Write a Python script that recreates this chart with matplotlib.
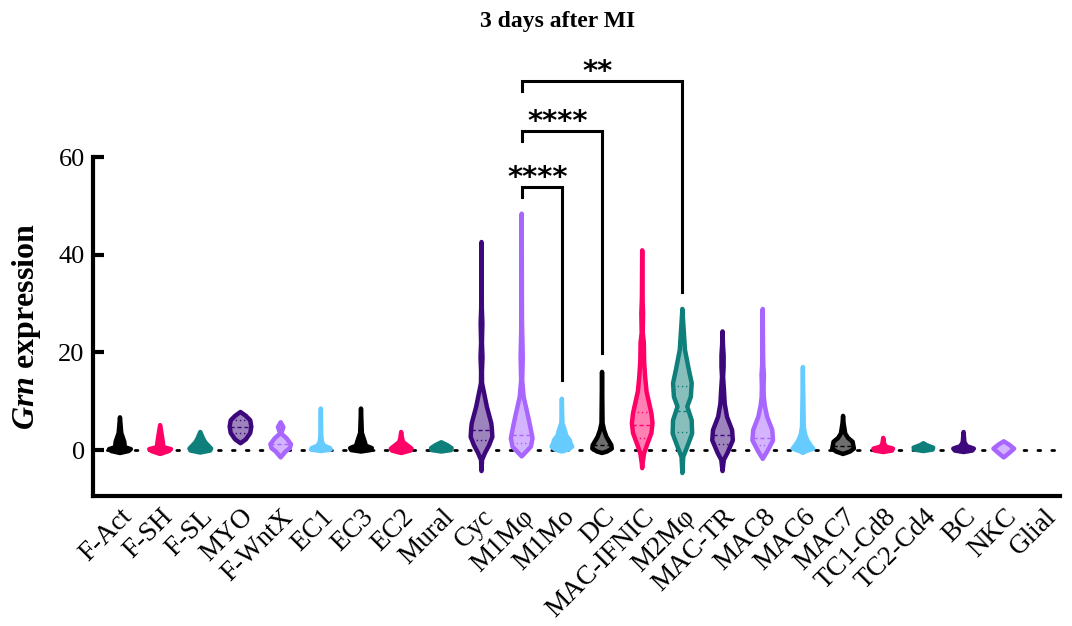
import numpy as np
import matplotlib
matplotlib.use('Agg')
import matplotlib.pyplot as plt
import matplotlib.transforms as mtransforms

plt.rcParams['font.family'] = 'Liberation Serif'
plt.rcParams['mathtext.fontset'] = 'custom'
plt.rcParams['mathtext.rm'] = 'Liberation Serif'
plt.rcParams['mathtext.bfit'] = 'Liberation Serif:italic:bold'

# cell types along the x axis
cells = ['F-Act', 'F-SH', 'F-SL', 'MYO', 'F-WntX', 'EC1', 'EC3', 'EC2', 'Mural',
         'Cyc', 'M1Mφ', 'M1Mo', 'DC', 'MAC-IFNIC', 'M2Mφ', 'MAC-TR', 'MAC8', 'MAC6',
         'MAC7', 'TC1-Cd8', 'TC2-Cd4', 'BC', 'NKC', 'Glial']

# colour cycle (edge, fill)
palette = [('#000000', '#6E6E6E'), ('#FF0066', '#FF80B3'), ('#0E7F7A', '#88BFBC'),
           ('#3D087B', '#9E84BD'), ('#A866FF', '#D4B3FF'), ('#66CCFF', '#B3E6FF')]

# flat violins look solid in the reference
solid = [1, 1, 1, 0, 0, 1, 1, 1, 1, 0, 0, 1, 0, 0, 0, 0, 0, 1, 0, 1, 1, 1, 0, 0]

# violin outlines: expression levels and relative half widths
profile_y = [
    [-0.6, -0.2, 0.2, 0.6, 1.7, 3.5, 6.7],
    [-0.8, -0.2, 0.2, 0.6, 1.6, 3.5, 5.1],
    [-0.5, -0.1, 0.3, 1.0, 1.6, 2.4, 3.7],
    [1.4, 2.2, 3.5, 4.8, 6.1, 7.0, 7.8],
    [-1.5, -0.3, 0.4, 1.2, 2.4, 3.4, 4.7, 5.7],
    [-0.2, 0.1, 0.4, 0.9, 1.7, 3.0, 8.5],
    [-0.3, 0.0, 0.4, 0.9, 1.7, 3.5, 8.5],
    [-0.6, -0.1, 0.3, 1.0, 1.6, 2.4, 3.7],
    [-0.3, 0.0, 0.4, 1.0, 1.6],
    [-4.3, -2.0, -0.6, 1.0, 2.7, 4.5, 5.5, 8.8, 13.7, 16, 19, 22, 26, 29, 42.6],
    [-1.3, -0.6, 0.7, 2.4, 4.7, 6.8, 10.9, 14.3, 19, 26, 48.4],
    [-0.3, 0.1, 0.7, 1.4, 2.0, 3.0, 4.1, 5.5, 10.5],
    [-0.6, -0.3, 0.3, 1.0, 2.7, 4.0, 5.5, 16.0],
    [-3.7, -2.5, -0.6, 1.4, 3.5, 5.5, 7.5, 9.6, 12, 15, 18, 22, 24, 28, 31, 40.9],
    [-4.7, -1.4, 0.7, 3.4, 6.1, 8.9, 10.9, 13.7, 16.4, 20.5, 26, 28.9],
    [-4.3, -2.0, -0.6, 2.0, 4.1, 6.8, 9.5, 12.3, 15, 17, 19.4, 21.5, 24.3],
    [-1.8, -0.3, 2.0, 4.1, 6.8, 9, 10.9, 13, 15.4, 17.5, 19.1, 28.9],
    [-0.6, -0.3, 0.3, 1.0, 2.0, 3.2, 4.8, 10.2, 17.0],
    [-0.8, -0.3, 0.3, 1.7, 2.5, 3.4, 5.5, 7.0],
    [-0.4, -0.1, 0.3, 0.7, 1.3, 2.5],
    [-0.2, 0.1, 0.5, 1.0, 1.4],
    [-0.4, -0.1, 0.3, 0.8, 1.6, 3.7],
    [-1.5, -0.6, 0.3, 1.1, 1.8],
    [],
]
profile_w = [
    [0, 0.8, 1.0, 0.45, 0.4, 0.12, 0],
    [0, 0.8, 1.0, 0.3, 0.25, 0.12, 0],
    [0, 0.9, 1.0, 0.7, 0.45, 0.25, 0],
    [0, 0.5, 0.9, 1.0, 0.9, 0.5, 0],
    [0, 0.45, 0.85, 0.95, 0.55, 0.05, 0.25, 0],
    [0, 0.9, 0.85, 0.3, 0.1, 0.04, 0],
    [0, 0.9, 1.0, 0.45, 0.35, 0.08, 0],
    [0, 0.85, 0.95, 0.55, 0.2, 0.08, 0],
    [0, 0.9, 0.95, 0.55, 0],
    [0, 0.05, 0.32, 0.7, 1.0, 0.95, 0.9, 0.5, 0.05, 0.04, 0.09, 0.04, 0.08, 0.03, 0],
    [0, 0.3, 0.85, 1.0, 0.8, 0.6, 0.18, 0.05, 0.1, 0.03, 0],
    [0, 0.6, 0.95, 0.8, 0.73, 0.4, 0.27, 0.05, 0],
    [0, 0.45, 0.9, 0.86, 0.41, 0.2, 0.05, 0],
    [0, 0.05, 0.18, 0.5, 0.85, 0.95, 0.85, 0.64, 0.4, 0.27, 0.18, 0.15, 0.05, 0.08, 0.03, 0],
    [0, 0.08, 0.45, 0.9, 0.86, 0.45, 0.78, 0.86, 0.6, 0.24, 0.08, 0],
    [0, 0.12, 0.45, 0.95, 0.88, 0.41, 0.2, 0.13, 0.05, 0.1, 0.1, 0.04, 0],
    [0, 0.41, 0.95, 0.88, 0.41, 0.2, 0.1, 0.08, 0.11, 0.05, 0.04, 0],
    [0, 0.2, 0.95, 0.7, 0.41, 0.2, 0.08, 0.04, 0],
    [0, 0.64, 1.0, 0.88, 0.45, 0.2, 0.05, 0],
    [0, 0.8, 0.9, 0.25, 0.08, 0],
    [0, 0.85, 0.9, 0.3, 0],
    [0, 0.8, 0.95, 0.3, 0.08, 0],
    [0, 0.5, 0.95, 0.5, 0],
    [],
]

# median (dashed) and quartiles (dotted) inside the violins
medians = {3: 4.8, 4: 1.2, 9: 4.1, 10: 3.1, 12: 1.0, 13: 5.1, 14: 8.0, 15: 3.1, 16: 2.4, 18: 0.8}
quartiles = {3: [3.5, 6.1], 9: [2.0], 10: [1.4], 13: [2.4, 7.8], 14: [3.7, 13.1],
             15: [1.2], 16: [1.0], 17: [0.6]}

# significance brackets: (left, right, height, right leg end, label)
brk_left = [10, 10, 10]
brk_right = [11, 12, 14]
brk_y = [53.9, 65.3, 75.6]
brk_end = [14.3, 19.9, 32.4]
brk_text = ['****', '****', '**']

HALF = 0.27

fig = plt.figure(figsize=(10.72, 6.26), dpi=100)
ax = fig.add_axes([0.0868, 0.2077, 0.902, 0.5415])

ax.axhline(0, color='black', lw=2.0, ls=(0, (1, 4)), dash_capstyle='round', zorder=1)

for i, (ys, ws) in enumerate(zip(profile_y, profile_w)):
    if not ys:
        continue
    edge, fill = palette[i % len(palette)]
    if solid[i]:
        fill = edge
    ys = np.array(ys, dtype=float)
    ws = np.array(ws, dtype=float) * HALF
    xs = np.concatenate([i + ws, (i - ws)[::-1]])
    yy = np.concatenate([ys, ys[::-1]])
    ax.fill(xs, yy, facecolor=fill, edgecolor=edge, lw=3.2, joinstyle='round', zorder=3)
    if i in medians:
        w = np.interp(medians[i], ys, ws)
        ax.plot([i - w, i + w], [medians[i]] * 2, color=edge, lw=1, ls=(0, (3, 2)), zorder=4)
    for q in quartiles.get(i, []):
        w = np.interp(q, ys, ws)
        ax.plot([i - w, i + w], [q] * 2, color=edge, lw=1, ls=(0, (1, 2)), zorder=4)

# brackets
for l, r, y, e, t in zip(brk_left, brk_right, brk_y, brk_end, brk_text):
    ax.plot([l, l, r, r], [y - 2.1, y, y, e], color='black', lw=2.2,
            solid_joinstyle='miter', clip_on=False, zorder=5)
    ax.text((l + r) / 2 - 0.1, y + 0.2, t, ha='center', va='baseline',
            fontsize=21, fontweight='bold', family='DejaVu Sans')

ax.set_xlim(-0.67, 23.4)
ax.set_ylim(-9.4, 60)
ax.set_yticks([0, 20, 40, 60])
ax.set_xticks(range(len(cells)))
ax.set_xticklabels(cells, rotation=45, ha='right', rotation_mode='anchor', fontsize=19.5)
offset = mtransforms.ScaledTranslation(6 / 100, 0, fig.dpi_scale_trans)
for lab in ax.get_xticklabels():
    lab.set_transform(lab.get_transform() + offset)

for s in ['top', 'right']:
    ax.spines[s].set_visible(False)
for s in ['left', 'bottom']:
    ax.spines[s].set_linewidth(3)
ax.tick_params(axis='y', direction='in', length=8, width=3, labelsize=19, pad=6)
ax.tick_params(axis='x', length=0, pad=6)

ax.set_ylabel(r'$\mathbfit{Grn}$ expression', fontsize=23, fontweight='bold')
ax.yaxis.set_label_coords(-0.052, 0.5)

fig.text(0.5205, 0.965, '3 days after MI', ha='center', va='center',
         fontsize=17, fontweight='bold')

fig.savefig('out.png', dpi=100)
